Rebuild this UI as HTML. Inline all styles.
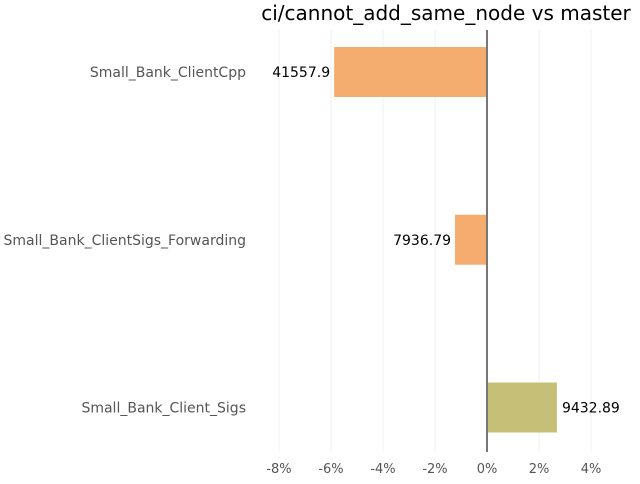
<!DOCTYPE html>
<html><head><meta charset="utf-8"><style>
body{margin:0;background:#fff;font-family:"DejaVu Sans","Liberation Sans",sans-serif}
</style></head><body>
<svg id="c" width="640" height="480" xmlns="http://www.w3.org/2000/svg">
<text x="446" y="20" text-anchor="middle" font-size="20" fill="#000">ci/cannot_add_same_node vs master</text>
<g id="grid"></g><g id="bars"></g><g id="labels"></g>
</svg>
<script>
const categories=["Small_Bank_ClientCpp","Small_Bank_ClientSigs_Forwarding","Small_Bank_Client_Sigs"];
const pctChange=[-5.88,-1.23,2.69];
const printedValues=["41557.9","7936.79","9432.89"];
const barColors=["#f5ad6f","#f5ad6f","#c5bf78"];
const ticks=[-8,-6,-4,-2,0,2,4];
const tickLabels=["-8%","-6%","-4%","-2%","0%","2%","4%"];
const ns="http://www.w3.org/2000/svg";
const x=v=>487+v*26;
const yc=i=>72+i*167.75;
function mk(tag,attrs,parent,text){const e=document.createElementNS(ns,tag);for(const k in attrs)e.setAttribute(k,attrs[k]);if(text!==undefined)e.textContent=text;document.getElementById(parent).appendChild(e);return e;}
ticks.forEach((t,i)=>{
 const g=mk("line",{x1:x(t),x2:x(t),y1:30,y2:452,stroke:"#f0f0f0","stroke-width":1},"grid");
 
 
 const l=mk("text",{x:x(t),y:473,"text-anchor":"middle","font-size":13,fill:"#555"},"labels",tickLabels[i]);
 
 
});
categories.forEach((c,i)=>{
 const v=pctChange[i];const x0=Math.min(x(0),x(v));const w=Math.abs(x(v)-x(0));
 const b=mk("rect",{x:x0,y:yc(i)-25,width:w,height:50,fill:barColors[i]},"bars");
 
 
 const cl=mk("text",{x:246,y:yc(i)+5,"text-anchor":"end","font-size":14,fill:"#555"},"labels",c);
 
 
 const vl=mk("text",{x:v<0?x(v)-4:x(v)+5,y:yc(i)+5,"text-anchor":v<0?"end":"start","font-size":14,fill:"#000"},"labels",printedValues[i]);
 
 
});
const z=mk("line",{x1:x(0),x2:x(0),y1:30,y2:452,stroke:"#777","stroke-width":2},"bars");


</script>
</body></html>
